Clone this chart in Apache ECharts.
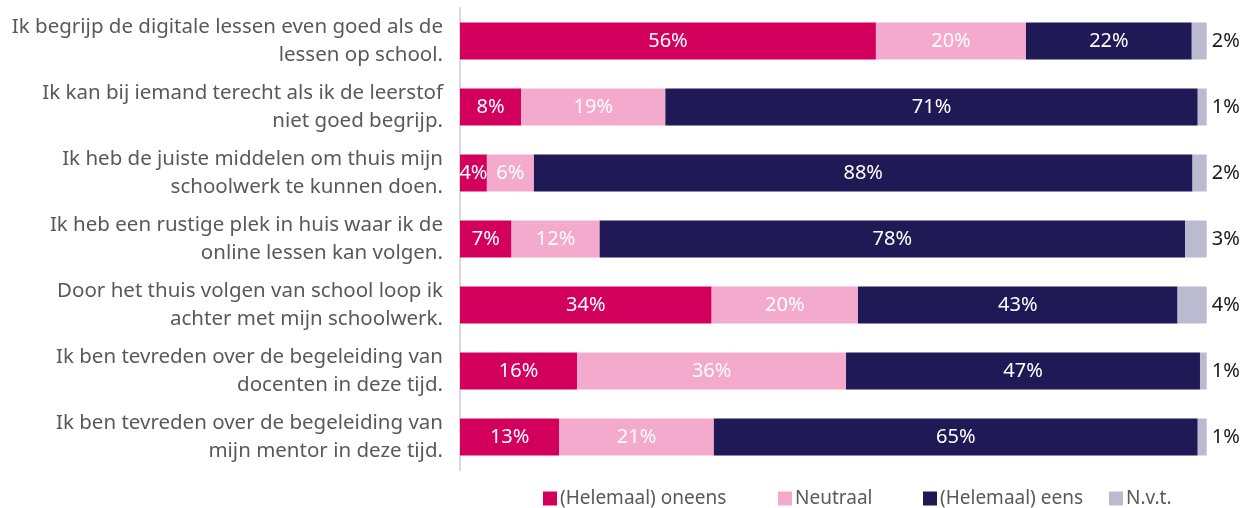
<!DOCTYPE html>
<html><head><meta charset="utf-8">
<script src="https://cdn.jsdelivr.net/npm/echarts@6/dist/echarts.min.js"></script>
<style>html,body{margin:0;padding:0;background:#fff}#c{width:1250px;height:508px}</style>
</head><body><div id="c"></div>
<script>
const categories = [
  "Ik begrijp de digitale lessen even goed als de\nlessen op school.",
  "Ik kan bij iemand terecht als ik de leerstof\nniet goed begrijp.",
  "Ik heb de juiste middelen om thuis mijn\nschoolwerk te kunnen doen.",
  "Ik heb een rustige plek in huis waar ik de\nonline lessen kan volgen.",
  "Door het thuis volgen van school loop ik\nachter met mijn schoolwerk.",
  "Ik ben tevreden over de begeleiding van\ndocenten in deze tijd.",
  "Ik ben tevreden over de begeleiding van\nmijn mentor in deze tijd."
];
const seriesNames = ["(Helemaal) oneens", "Neutraal", "(Helemaal) eens", "N.v.t."];
const oneens  = [55.7, 8.2, 3.6, 6.9, 33.7, 15.7, 13.3];
const neutraal = [20.1, 19.3, 6.3, 11.8, 19.6, 36.0, 20.7];
const eens    = [22.2, 71.3, 88.2, 78.4, 42.8, 47.4, 64.8];
const nvt     = [2.0, 1.2, 1.9, 2.9, 3.9, 0.9, 1.2];
const colors = ["#D2005C", "#F4AACC", "#1F1956", "#BCBAD0"];

const FONT = "Noto Sans";
const FS = 20;
const fmt = p => Math.round(p.value) + "%";
const values = [oneens, neutraal, eens, nvt];
const series = values.map((arr, i) => ({
  name: seriesNames[i],
  type: "bar",
  stack: "total",
  barWidth: "56%",
  data: arr,
  itemStyle: { color: colors[i] },
  label: i < 3 ? {
    show: true, position: "inside", color: "#fff", fontFamily: FONT, fontSize: FS, formatter: fmt
  } : {
    show: true, position: "right", distance: 5, color: "#1a1a1a", fontFamily: FONT, fontSize: FS, formatter: fmt
  }
}));
const legendLeft = [538, 773, 918, 1104];
const legends = seriesNames.map((n, i) => ({
  data: [n], left: legendLeft[i], top: 484, itemWidth: 14, itemHeight: 14, itemGap: 4,
  icon: "rect", textStyle: { color: "#595959", fontFamily: FONT, fontSize: 19, padding: [0, 0, 0, -2] }
}));
const chart = echarts.init(document.getElementById("c"), null, { renderer: "canvas" });
chart.setOption({
  animation: false,
  grid: { left: 460, right: 43.3, top: 8, bottom: 38 },
  legend: legends,
  xAxis: { type: "value", min: 0, max: 100, show: false },
  yAxis: {
    type: "category", data: categories, inverse: true,
    axisLine: { show: true, lineStyle: { color: "#D9D9D9", width: 2 } },
    axisTick: { show: false },
    axisLabel: { color: "#595959", fontFamily: FONT, fontSize: 20.5, lineHeight: 28, margin: 17, align: "right" }
  },
  series: series
});
</script></body></html>
